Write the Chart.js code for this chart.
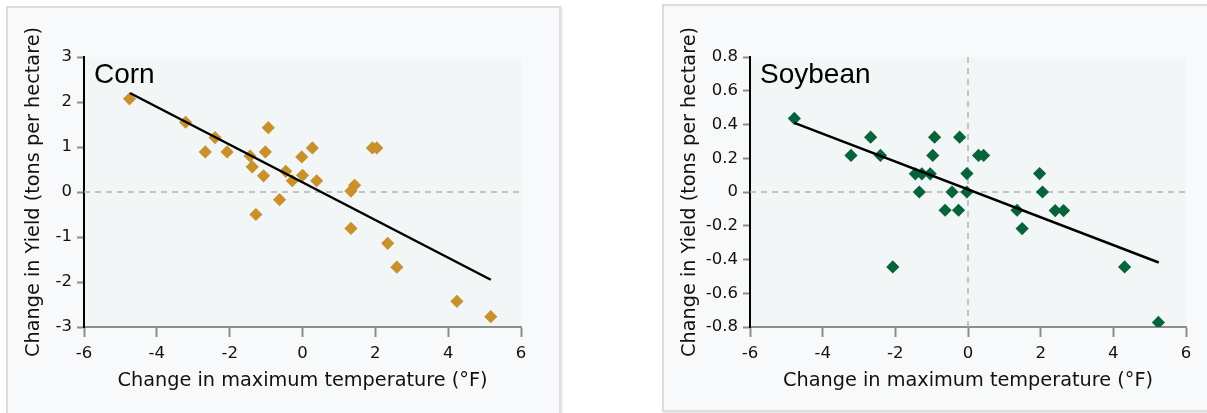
<!DOCTYPE html>
<html>
<head>
<meta charset="utf-8">
<script src="https://cdn.jsdelivr.net/npm/chart.js@4"></script>
<style>
  html, body { margin: 0; padding: 0; background: #ffffff; width: 1207px; height: 413px; overflow: hidden; }
  .panel { position: absolute; background: #f7f9fa; border: 2px solid #dcdcdc; box-shadow: 1px 1px 2px rgba(0,0,0,0.12); box-sizing: border-box; }
  canvas { position: absolute; }
</style>
</head>
<body>
<div class="panel" style="left:6px; top:6px; width:555px; height:420px;"></div>
<div class="panel" style="left:662px; top:4px; width:560px; height:408px;"></div>
<canvas id="corn" style="left:8px; top:8px;" width="551" height="405"></canvas>
<canvas id="soy" style="left:663px; top:5px;" width="544" height="408"></canvas>
<script>
// ---------------- data ----------------
const xTickValues = [-6, -4, -2, 0, 2, 4, 6];
const cornYTickValues = [-3, -2, -1, 0, 1, 2, 3];
const soyYTickValues = [-0.8, -0.6, -0.4, -0.2, 0, 0.2, 0.4, 0.6, 0.8];

const cornTempChange = [-4.75, -3.21, -2.40, -2.67, -2.07, -1.44, -1.38, -0.94, -1.02, -1.07, -1.28, -0.63, -0.46, -0.28, -0.02, 0.00, 0.27, 0.39, 1.33, 1.43, 1.92, 2.04, 1.33, 2.34, 2.59, 4.24, 5.17];
const cornYieldChange = [2.07, 1.55, 1.21, 0.89, 0.89, 0.80, 0.56, 1.43, 0.89, 0.36, -0.50, -0.17, 0.46, 0.25, 0.78, 0.37, 0.98, 0.25, 0.02, 0.15, 0.98, 0.98, -0.81, -1.14, -1.67, -2.43, -2.77];
const cornFitX = [-4.74, 5.17];
const cornFitY = [2.20, -1.95];

const soyTempChange = [-4.78, -3.22, -2.68, -2.41, -1.45, -1.27, -1.04, -1.34, -0.92, -0.97, -0.23, 0.29, 0.43, -0.03, -0.44, -0.03, -0.63, -0.26, 1.35, 1.49, 1.97, 2.05, 2.40, 2.63, 4.31, 5.24, -2.07];
const soyYieldChange = [0.436, 0.217, 0.325, 0.217, 0.108, 0.108, 0.108, 0.0, 0.325, 0.217, 0.325, 0.217, 0.217, 0.109, 0.0, 0.0, -0.108, -0.108, -0.108, -0.217, 0.109, 0.0, -0.11, -0.11, -0.444, -0.773, -0.444];
const soyFitX = [-4.78, 5.25];
const soyFitY = [0.41, -0.418];

const xAxisTitle = 'Change in maximum temperature (°F)';
const yAxisTitle = 'Change in Yield (tons per hectare)';

// ---------------- helpers ----------------
const FONT = "'DejaVu Sans', 'Liberation Sans', Arial, sans-serif";
const TITLE_FONT = "'Liberation Sans', Arial, Helvetica, sans-serif";
const toPoints = (xs, ys) => xs.map((x, i) => ({ x: x, y: ys[i] }));

const plotBgPlugin = {
  id: 'plotBg',
  beforeDraw(chart) {
    const { ctx, chartArea: a } = chart;
    ctx.save();
    ctx.fillStyle = '#f2f6f7';
    ctx.fillRect(a.left, a.top, a.right - a.left, a.bottom - a.top);
    ctx.restore();
  },
  beforeDatasetsDraw(chart, args, opts) {
    const { ctx, chartArea: a, scales } = chart;
    ctx.save();
    ctx.strokeStyle = '#b3b3b3';
    ctx.lineWidth = 1.5;
    ctx.setLineDash([6, 5]);
    const y0 = scales.y.getPixelForValue(0);
    ctx.beginPath();
    ctx.moveTo(a.left, y0);
    ctx.lineTo(a.right, y0);
    ctx.stroke();
    if (opts.vertical) {
      const x0 = scales.x.getPixelForValue(0);
      ctx.beginPath();
      ctx.moveTo(x0, a.top);
      ctx.lineTo(x0, a.bottom);
      ctx.stroke();
    }
    ctx.restore();
  },
  afterDraw(chart, args, opts) {
    const { ctx, chartArea: a } = chart;
    ctx.save();
    ctx.fillStyle = '#000';
    ctx.font = '28px ' + TITLE_FONT;
    ctx.textBaseline = 'alphabetic';
    ctx.fillText(opts.text, a.left + opts.dx, a.top + opts.dy);
    ctx.restore();
  },
  defaults: { vertical: false, text: '', dx: 10, dy: 26 }
};

function makeChart(id, cfg) {
  return new Chart(document.getElementById(id), {
    type: 'scatter',
    data: {
      datasets: [
        {
          type: 'line',
          data: toPoints(cfg.fitX, cfg.fitY),
          borderColor: '#000000',
          borderWidth: 2.5,
          pointRadius: 0,
          fill: false
        },
        {
          data: toPoints(cfg.xs, cfg.ys),
          pointStyle: 'rectRot',
          pointRadius: 6.6,
          pointHoverRadius: 6.6,
          backgroundColor: cfg.color,
          borderColor: cfg.color,
          borderWidth: 0
        }
      ]
    },
    options: {
      responsive: false,
      animation: false,
      events: [],
      layout: { padding: cfg.padding },
      plugins: {
        legend: { display: false },
        tooltip: { enabled: false },
        title: { display: false },
        plotBg: { vertical: cfg.vertical, text: cfg.title, dx: cfg.titleDx, dy: cfg.titleDy }
      },
      scales: {
        x: {
          type: 'linear',
          min: -6, max: 6,
          afterBuildTicks: s => { s.ticks = xTickValues.map(v => ({ value: v })); },
          afterFit: s => { s.height = cfg.xAxisHeight; },
          ticks: { color: '#111', font: { family: FONT, size: 16.5 }, padding: 7, callback: v => String(v), maxRotation: 0 },
          grid: { drawOnChartArea: false, drawTicks: true, tickLength: 10, tickColor: '#8c8c8c', tickWidth: 2 },
          border: { display: true, color: '#8c8c8c', width: 2 },
          title: { display: true, text: xAxisTitle, color: '#111', font: { family: FONT, size: 19.3 }, padding: { top: 0, bottom: cfg.xTitlePad } }
        },
        y: {
          type: 'linear',
          min: cfg.yTicks[0], max: cfg.yTicks[cfg.yTicks.length - 1],
          afterBuildTicks: s => { s.ticks = cfg.yTicks.map(v => ({ value: v })); },
          afterFit: s => { s.width = cfg.yAxisWidth; },
          ticks: { color: '#111', font: { family: FONT, size: 16.5 }, padding: 5, callback: v => String(Math.round(v * 10) / 10) },
          grid: { drawOnChartArea: false, drawTicks: true, tickLength: 7, tickColor: '#8c8c8c', tickWidth: 2 },
          border: { display: true, color: '#000000', width: 2 },
          title: { display: true, text: yAxisTitle, color: '#111', font: { family: FONT, size: 19.3 }, padding: { top: cfg.yTitlePad, bottom: 0 } }
        }
      }
    },
    plugins: [plotBgPlugin]
  });
}

makeChart('corn', {
  xs: cornTempChange, ys: cornYieldChange, fitX: cornFitX, fitY: cornFitY,
  yTicks: cornYTickValues, color: '#c8912b', vertical: false, title: 'Corn',
  padding: { left: 0, top: 49, right: 38, bottom: 0 },
  xAxisHeight: 86, yAxisWidth: 76, xTitlePad: 20, yTitlePad: 14,
  titleDx: 10, titleDy: 26
});

makeChart('soy', {
  xs: soyTempChange, ys: soyYieldChange, fitX: soyFitX, fitY: soyFitY,
  yTicks: soyYTickValues, color: '#07633a', vertical: true, title: 'Soybean',
  padding: { left: 0, top: 52, right: 21, bottom: 0 },
  xAxisHeight: 86, yAxisWidth: 87, xTitlePad: 20, yTitlePad: 15,
  titleDx: 10, titleDy: 26
});
</script>
</body>
</html>
